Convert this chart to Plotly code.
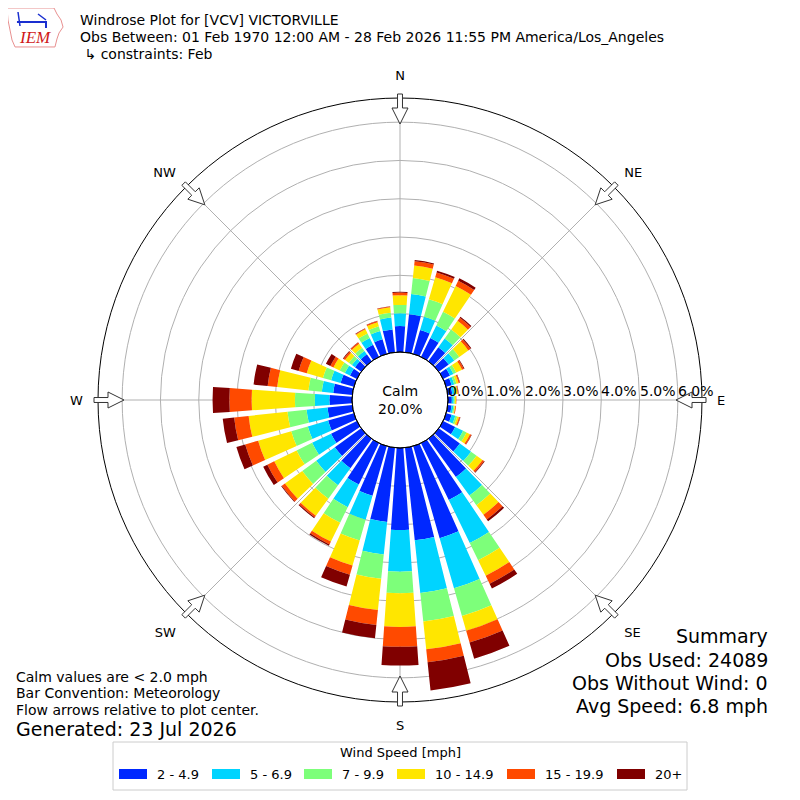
import math
import plotly.graph_objects as go

# wind direction bins (deg, meteorological), 10 degree sectors
directions = list(range(0, 360, 10))

speed_bins = ["2 - 4.9", "5 - 6.9", "7 - 9.9", "10 - 14.9", "15 - 19.9", "20+"]
bin_colors = ["#0028ff", "#00d4ff", "#7dff7a", "#ffe600", "#ff4a00", "#800000"]

# percent of observations per direction, one list per speed bin
pct_2_5 = [0.68, 1.00, 0.65, 0.55, 0.45, 0.32, 0.20, 0.15, 0.12, 0.10, 0.10, 0.15,
           0.35, 0.68, 1.23, 1.65, 2.50, 2.43, 2.14, 1.95, 1.35, 1.20, 0.95, 0.85,
           0.75, 0.70, 0.65, 0.59, 0.50, 0.36, 0.20, 0.20, 0.22, 0.35, 0.40, 0.60]
pct_5_7 = [0.33, 0.53, 0.36, 0.36, 0.28, 0.18, 0.10, 0.07, 0.06, 0.05, 0.05, 0.10,
           0.23, 0.36, 0.60, 1.25, 1.36, 1.38, 1.09, 0.85, 0.65, 0.66, 0.55, 0.60,
           0.55, 0.55, 0.55, 0.38, 0.30, 0.26, 0.15, 0.10, 0.11, 0.20, 0.22, 0.31]
pct_7_10 = [0.22, 0.42, 0.47, 0.40, 0.29, 0.16, 0.08, 0.06, 0.04, 0.03, 0.03, 0.05,
            0.10, 0.18, 0.31, 0.50, 0.75, 0.75, 0.56, 0.64, 0.56, 0.45, 0.43, 0.45,
            0.45, 0.45, 0.50, 0.52, 0.35, 0.22, 0.15, 0.10, 0.10, 0.13, 0.13, 0.13]
pct_10_15 = [0.25, 0.33, 0.60, 0.75, 0.28, 0.29, 0.17, 0.06, 0.04, 0.03, 0.02, 0.05,
             0.10, 0.19, 0.31, 0.45, 0.40, 0.73, 0.88, 0.82, 0.68, 0.55, 0.55, 0.56,
             0.65, 0.90, 1.02, 1.13, 0.82, 0.44, 0.18, 0.12, 0.13, 0.12, 0.11, 0.14]
pct_15_20 = [0.07, 0.11, 0.13, 0.15, 0.10, 0.07, 0.05, 0.03, 0.02, 0.01, 0.02, 0.03,
             0.04, 0.05, 0.15, 0.23, 0.32, 0.34, 0.52, 0.39, 0.25, 0.08, 0.05, 0.10,
             0.20, 0.35, 0.38, 0.58, 0.25, 0.22, 0.09, 0.05, 0.04, 0.02, 0.03, 0.02]
pct_20_up = [0.02, 0.03, 0.05, 0.07, 0.03, 0.03, 0.02, 0.01, 0.01, 0.00, 0.00, 0.01,
             0.01, 0.02, 0.06, 0.14, 0.44, 0.74, 0.49, 0.35, 0.32, 0.04, 0.03, 0.02,
             0.12, 0.24, 0.30, 0.44, 0.37, 0.21, 0.13, 0.02, 0.01, 0.01, 0.01, 0.01]

compass_angles = [0, 45, 90, 135, 180, 225, 270, 315]
compass_labels = ["N", "NE", "E", "SE", "S", "SW", "W", "NW"]
radial_ticks = [0, 1, 2, 3, 4, 5, 6]
calm_pct = 20.0

W = H = 800
OFF = 8          # page body margin, shift everything back
CX, CY = 400, 400
R_OUT = 302
R_HOLE = 48
R_MAX = 6.63


def px(x):
    return (x - OFF) / W


def py(y):
    return 1 - (y - OFF) / H


series = [pct_2_5, pct_5_7, pct_7_10, pct_10_15, pct_15_20, pct_20_up]

fig = go.Figure()
for name, color, vals in zip(speed_bins, bin_colors, series):
    fig.add_trace(go.Barpolar(
        r=vals, theta=directions, width=8, name=name,
        marker=dict(color=color, line=dict(width=0)),
        showlegend=False, hoverinfo="skip"))

fig.update_layout(
    width=W, height=H,
    margin=dict(l=0, r=0, t=0, b=0),
    paper_bgcolor="white",
    font=dict(family="DejaVu Sans", color="black"),
    polar=dict(
        domain=dict(x=[px(CX - R_OUT), px(CX + R_OUT)],
                    y=[py(CY + R_OUT), py(CY - R_OUT)]),
        bgcolor="white",
        hole=R_HOLE / R_OUT,
        barmode="stack",
        angularaxis=dict(
            rotation=90, direction="clockwise",
            tickmode="array", tickvals=compass_angles, ticktext=compass_labels,
            tickfont=dict(size=13),
            ticks="outside", ticklen=12, tickcolor="rgba(0,0,0,0)",
            showgrid=True, gridcolor="#b0b0b0", gridwidth=1,
            showline=True, linecolor="black", linewidth=1,
            layer="above traces"),
        radialaxis=dict(
            range=[0, R_MAX], angle=0,
            tickmode="array", tickvals=radial_ticks,
            showticklabels=False, ticks="",
            showgrid=True, gridcolor="#b0b0b0", gridwidth=1,
            showline=False, layer="above traces"),
    ),
)

shapes = []
# calm circle outline
shapes.append(dict(type="circle", xref="paper", yref="paper",
                   x0=px(CX - R_HOLE), x1=px(CX + R_HOLE),
                   y0=py(CY + R_HOLE), y1=py(CY - R_HOLE),
                   line=dict(color="black", width=1)))

# hollow flow arrows at compass points, pointing to center
arrow_pts = [(306, -2.5), (292, -2.5), (292, -8), (276, 0),
             (292, 8), (292, 2.5), (306, 2.5)]
for a in compass_angles:
    s, c = math.sin(math.radians(a)), math.cos(math.radians(a))
    pts = []
    for rr, ww in arrow_pts:
        x = CX + rr * s + ww * c
        y = CY - rr * c + ww * s
        pts.append("%.4f,%.4f" % (px(x), py(y)))
    shapes.append(dict(type="path", xref="paper", yref="paper",
                       path="M" + " L".join(pts) + " Z",
                       fillcolor="white", line=dict(color="#333333", width=1)))

# legend box
shapes.append(dict(type="rect", xref="paper", yref="paper",
                   x0=px(113), x1=px(687), y0=py(790), y1=py(742),
                   line=dict(color="#cccccc", width=1), fillcolor="white"))
legend_x = [119, 212, 304, 397, 507, 617]
for lx, color in zip(legend_x, bin_colors):
    shapes.append(dict(type="rect", xref="paper", yref="paper",
                       x0=px(lx), x1=px(lx + 28), y0=py(779), y1=py(769),
                       line=dict(width=0), fillcolor=color))

# IEM logo outline
iowa = [(7, 8), (54, 8), (57, 14), (61, 20), (63, 27), (59, 33), (57, 39),
        (55, 47), (15, 47), (12, 40), (10, 30), (8, 20)]
shapes.append(dict(type="path", xref="paper", yref="paper",
                   path="M" + " L".join("%.4f,%.4f" % (px(x), py(y)) for x, y in iowa) + " Z",
                   line=dict(color="#e89090", width=1)))
shapes.append(dict(type="path", xref="paper", yref="paper",
                   path="M%.4f,%.4f L%.4f,%.4f L%.4f,%.4f" % (px(17), py(22), px(46), py(22), px(46), py(28)),
                   line=dict(color="#1a2fd0", width=2)))
shapes.append(dict(type="path", xref="paper", yref="paper",
                   path="M%.4f,%.4f L%.4f,%.4f M%.4f,%.4f L%.4f,%.4f" % (
                       px(18), py(12), px(20), py(26), px(38), py(14), px(46), py(20)),
                   line=dict(color="#1a2fd0", width=1.5)))

ann = []


def text(x, y, s, size=13, xanchor="left", **kw):
    ann.append(dict(x=px(x), y=py(y), xref="paper", yref="paper", text=s,
                    showarrow=False, xanchor=xanchor, yanchor="middle",
                    font=dict(size=size, **kw)))


text(35, 38, "<i>IEM</i>", 17, "center", color="#d01818", family="Liberation Serif")
text(78, 20, "Windrose Plot for [VCV] VICTORVILLE", 14)
text(78, 37, "Obs Between: 01 Feb 1970 12:00 AM - 28 Feb 2026 11:55 PM America/Los_Angeles", 14)
text(78, 54, " \u21b3 constraints: Feb", 14)

text(CX, CY, "Calm<br>%.1f%%" % calm_pct, 14, "center")

# radial tick labels, sitting just above the east axis line, right of each circle
for v in radial_ticks:
    rpx = R_HOLE + v / R_MAX * (R_OUT - R_HOLE)
    text(CX + rpx - 2, CY - 9, "%.1f%%" % v, 14)

text(14, 677, "Calm values are < 2.0 mph", 14)
text(14, 693, "Bar Convention: Meteorology", 14)
text(14, 710, "Flow arrows relative to plot center.", 14)
text(14, 729, "Generated: 23 Jul 2026", 19)

text(770, 636, "Summary", 19, "right")
text(770, 660, "Obs Used: 24089", 19, "right")
text(770, 683, "Obs Without Wind: 0", 19, "right")
text(770, 706, "Avg Speed: 6.8 mph", 19, "right")

text(400, 752, "Wind Speed [mph]", 13, "center")
for lx, name in zip(legend_x, speed_bins):
    text(lx + 36, 774, name, 13)

fig.update_layout(shapes=shapes, annotations=ann)

fig.write_html("out.html")
